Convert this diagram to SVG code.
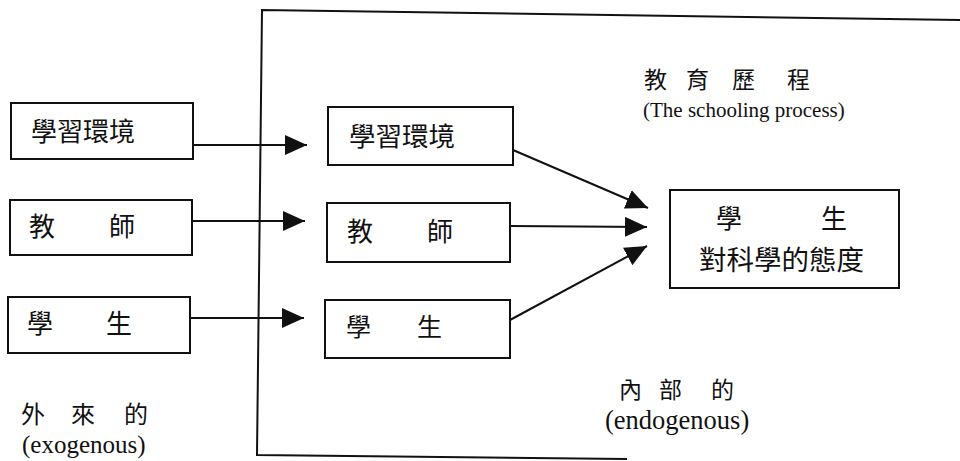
<svg xmlns="http://www.w3.org/2000/svg" width="960" height="461" viewBox="0 0 960 461">
<style>
.box{fill:#fff;stroke:#111;stroke-width:2}
.frame{fill:none;stroke:#111;stroke-width:2}
.conn{fill:none;stroke:#111;stroke-width:2}
.cjk{font-family:"Noto Sans CJK TC","Noto Sans CJK SC",sans-serif;fill:#111}
.en{font-family:"Liberation Serif","Times New Roman",serif;fill:#111}
</style>
<defs>
<marker id="ah" markerUnits="userSpaceOnUse" markerWidth="24" markerHeight="22" refX="22" refY="10" orient="auto" viewBox="0 0 24 22">
<path d="M0,0 L22,10 L0,20 Z" fill="#111"/>
</marker>
</defs>
<rect width="960" height="461" fill="#fff"/>
<g id="frame">
<polyline class="frame" points="960,20 262,10 257,455 627,459"/>
</g>
<g id="connectors">
<line class="conn" x1="193" y1="145" x2="307" y2="145" marker-end="url(#ah)"/>
<line class="conn" x1="192" y1="221" x2="305" y2="221" marker-end="url(#ah)"/>
<line class="conn" x1="190" y1="318" x2="304" y2="318" marker-end="url(#ah)"/>
<line class="conn" x1="513" y1="150" x2="648" y2="208" marker-end="url(#ah)"/>
<line class="conn" x1="510" y1="226" x2="647" y2="227" marker-end="url(#ah)"/>
<line class="conn" x1="510" y1="320" x2="647" y2="246" marker-end="url(#ah)"/>
</g>
<g id="ext-env">
<rect class="box" x="11" y="103" width="182" height="56"/>
<text class="cjk" x="31" y="141" font-size="26">學習環境</text>
</g>
<g id="ext-teacher">
<rect class="box" x="10" y="200" width="182" height="55"/>
<text class="cjk" x="29 56 109" y="236" font-size="26">教 師</text>
</g>
<g id="ext-student">
<rect class="box" x="8" y="297" width="182" height="56"/>
<text class="cjk" x="27 56 106" y="333" font-size="26">學 生</text>
</g>
<g id="int-env">
<rect class="box" x="328" y="107" width="185" height="58"/>
<text class="cjk" x="349" y="146" font-size="26.5">學習環境</text>
</g>
<g id="int-teacher">
<rect class="box" x="327" y="203" width="183" height="59"/>
<text class="cjk" x="347 374 427" y="241" font-size="26">教 師</text>
</g>
<g id="int-student">
<rect class="box" x="325" y="300" width="185" height="58"/>
<text class="cjk" x="346 372 417" y="336" font-size="25">學 生</text>
</g>
<g id="outcome">
<rect class="box" x="670" y="190" width="229" height="98"/>
<text class="cjk" x="716 745 821" y="228" font-size="26">學 生</text>
<text class="cjk" x="699" y="270" font-size="27.5">對科學的態度</text>
</g>
<g id="label-process">
<text class="cjk" x="644 667 686 709 732 755 787" y="88" font-size="23">教 育 歷 程</text>
<text class="en" x="643" y="117" font-size="21">(The schooling process)</text>
</g>
<g id="label-exo">
<text class="cjk" x="21 45 71 98 124" y="423" font-size="24">外 來 的</text>
<text class="en" x="22" y="453" font-size="25">(exogenous)</text>
</g>
<g id="label-endo">
<text class="cjk" x="619 643 659 683 711" y="398" font-size="23">內 部 的</text>
<text class="en" x="605" y="429" font-size="26.5">(endogenous)</text>
</g>
</svg>
